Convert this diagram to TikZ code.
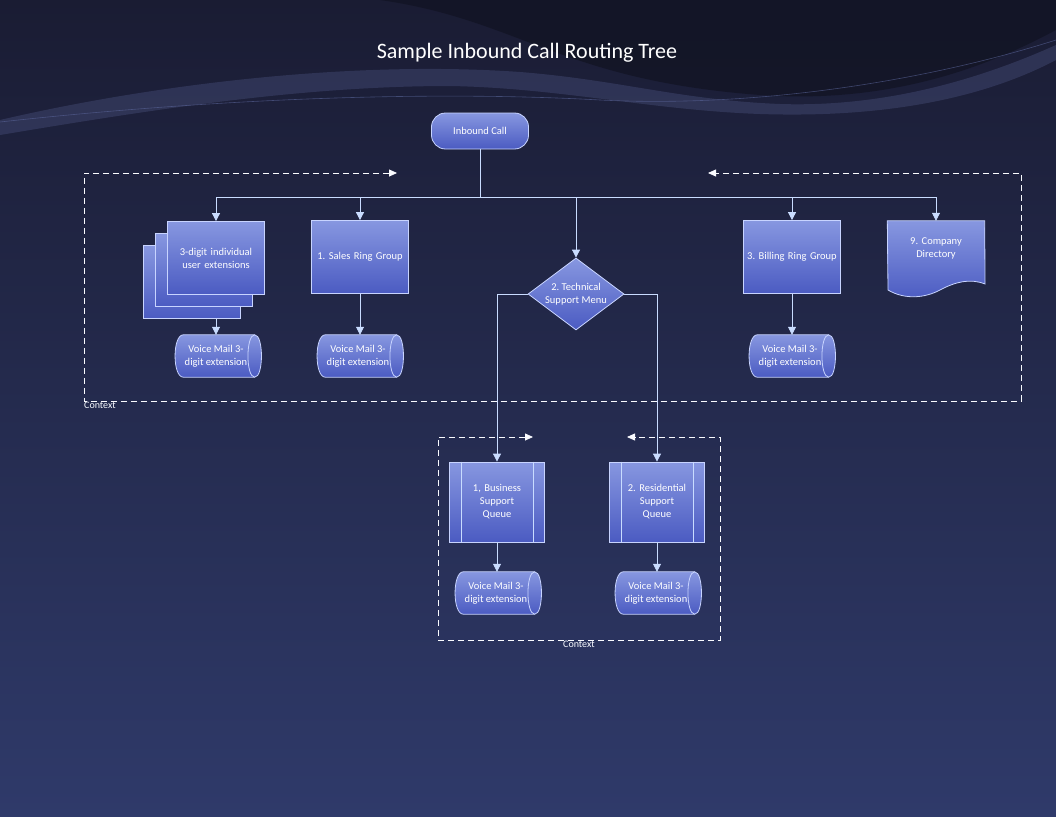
\documentclass[tikz,border=0pt]{standalone}
\usepackage{fontspec}
\setmainfont{Carlito}
\usetikzlibrary{shapes.geometric,arrows.meta}
\definecolor{bgtop}{HTML}{1A1C33}
\definecolor{bgbot}{HTML}{2F3A6A}
\definecolor{ln}{HTML}{C9DCFF}
\definecolor{ftop}{HTML}{8797E0}
\definecolor{fbot}{HTML}{4B5BC2}
\definecolor{bd}{HTML}{C8D4FF}
\begin{document}
\frenchspacing
\begin{tikzpicture}[x=1pt,y=-1pt,
  lab/.style={text=white,font=\fontsize{10.5}{13}\selectfont,align=center},
  box/.style={lab,draw=bd,line width=0.8pt,top color=ftop,bottom color=fbot,inner sep=2pt},
  proc/.style={box,rectangle,minimum width=97pt,minimum height=73pt,text width=90pt},
  vm/.style={lab,minimum width=87pt,minimum height=42pt,text width=80pt,inner sep=0pt},
  vmshape/.style={top color=ftop,bottom color=fbot,draw=bd,line width=0.8pt},
  conn/.style={draw=ln,line width=0.8pt,-{Triangle[length=8pt,width=8pt]}},
  ln/.style={draw=ln,line width=0.8pt},
  ctx/.style={draw=white!90!ln,line width=0.8pt,dash pattern=on 6pt off 4pt,{Triangle[length=8pt,width=7pt]}-{Triangle[length=8pt,width=7pt]}},
  ctxlab/.style={text=white!85!ln,font=\fontsize{10}{12}\selectfont,inner sep=0pt}]
% background
\shade[top color=bgtop,bottom color=bgbot] (0,0) rectangle (1056,816);
\useasboundingbox (0,0) rectangle (1056,816);
\fill[black!30!bgtop,opacity=0.8] (380,0) .. controls (520,20) and (560,80) .. (760,95) .. controls (900,105) and (1000,60) .. (1056,30) -- (1056,0) -- cycle;
\fill[ftop!40!bgtop,opacity=0.45] (0,120) .. controls (150,85) and (350,60) .. (520,72) .. controls (620,80) and (680,100) .. (780,104) .. controls (900,108) and (1000,70) .. (1056,45) -- (1056,60) .. controls (980,100) and (880,118) .. (760,114) .. controls (650,110) and (560,88) .. (450,86) .. controls (300,86) and (150,110) .. (0,135) -- cycle;
\draw[ftop!60!bgtop,opacity=0.6,line width=0.6pt] (0,122) .. controls (200,100) and (420,90) .. (600,100) .. controls (760,108) and (930,80) .. (1056,40);
\node[text=white,font=\fontsize{22}{26}\selectfont] (title) at (527,53) {Sample Inbound Call Routing Tree};
% context boxes
\draw[ctx] (397,173) -- (84,173) -- (84,401) -- (1021,401) -- (1021,173) -- (708,173);
\node[ctxlab,anchor=north west] (ctx1) at (84,402) {Context};
\draw[ctx] (533,437) -- (438,437) -- (438,640) -- (720,640) -- (720,437) -- (627,437);
\node[ctxlab,anchor=north] (ctx2) at (579,641) {Context};
% nodes
\node[box,rounded corners=14pt,minimum width=97pt,minimum height=36pt] (in) at (480,131) {Inbound Call};
\node[proc] (ext3) at (192,282) {};
\node[proc] (ext2) at (204,270) {};
\node[proc] (ext1) at (216,258) {3-digit individual\\user extensions\\[10pt]};
\node[proc] (sales) at (360,257) {1. Sales Ring Group};
\node[box,diamond,minimum width=96pt,minimum height=72pt,aspect=1.33,inner sep=0pt] (tech) at (576,294) {2. Technical\\Support Menu};
\node[proc] (bill) at (792,257) {3. Billing Ring Group};
\node[lab,minimum width=97pt,minimum height=74pt] (dir) at (936,258) {};
\shade[top color=ftop,bottom color=fbot,draw=bd,line width=0.8pt] (dir.north west) -- (dir.north east) -- (985,284) .. controls (970,278) and (955,282) .. (940,290) .. controls (925,298) and (905,300) .. (888,290) -- cycle;
\node[lab,text width=80pt] (dirt) at (936,248) {9. Company\\Directory};
\foreach \n/\x/\y in {vm1/219/356,vm2/361/356,vm3/793/356,vm4/499/593,vm5/659/593}{
  \node[vm] (\n) at (\x,\y) {};
  \shade[vmshape] ([xshift=8pt]\n.north west) -- ([xshift=-8pt]\n.north east) .. controls +(9,0) and +(9,0) .. ([xshift=-8pt]\n.south east) -- ([xshift=8pt]\n.south west) .. controls +(-11,0) and +(-11,0) .. ([xshift=8pt]\n.north west) -- cycle;
  \draw[bd,line width=0.8pt] ([xshift=-8pt]\n.north east) .. controls +(-9,0) and +(-9,0) .. ([xshift=-8pt]\n.south east);
  \node[lab] at ([xshift=-3pt]\n.center) {Voice Mail 3-\\digit extension};}
\node[proc,minimum width=95pt,minimum height=80pt,text width=64pt] (bq) at (497,502) {1, Business\\Support\\Queue\\[6pt]};
\node[proc,minimum width=95pt,minimum height=80pt,text width=64pt] (rq) at (657,502) {2. Residential\\Support\\Queue\\[6pt]};
\foreach \n in {bq,rq}{
  \draw[ln] ([xshift=12pt]\n.north west) -- ([xshift=12pt]\n.south west);
  \draw[ln] ([xshift=-12pt]\n.north east) -- ([xshift=-12pt]\n.south east);}
% connectors
\coordinate (j) at (480,197);
\draw[ln] (in.south) -- (j);
\draw[conn] (j) -| (ext1.north);
\draw[conn] (j) -| (sales.north);
\draw[conn] (j) -| (tech.north);
\draw[conn] (j) -| (bill.north);
\draw[conn] (j) -| (dir.north);
\draw[conn] (ext3.south -| ext1.south) -- (vm1.north -| ext1.south);
\draw[conn] (sales.south) -- (vm2.north -| sales.south);
\draw[conn] (bill.south) -- (vm3.north -| bill.south);
\draw[conn] (tech.west) -| (bq.north);
\draw[conn] (tech.east) -| (rq.north);
\draw[conn] (bq.south) -- (vm4.north -| bq.south);
\draw[conn] (rq.south) -- (vm5.north -| rq.south);
\end{tikzpicture}
\end{document}
